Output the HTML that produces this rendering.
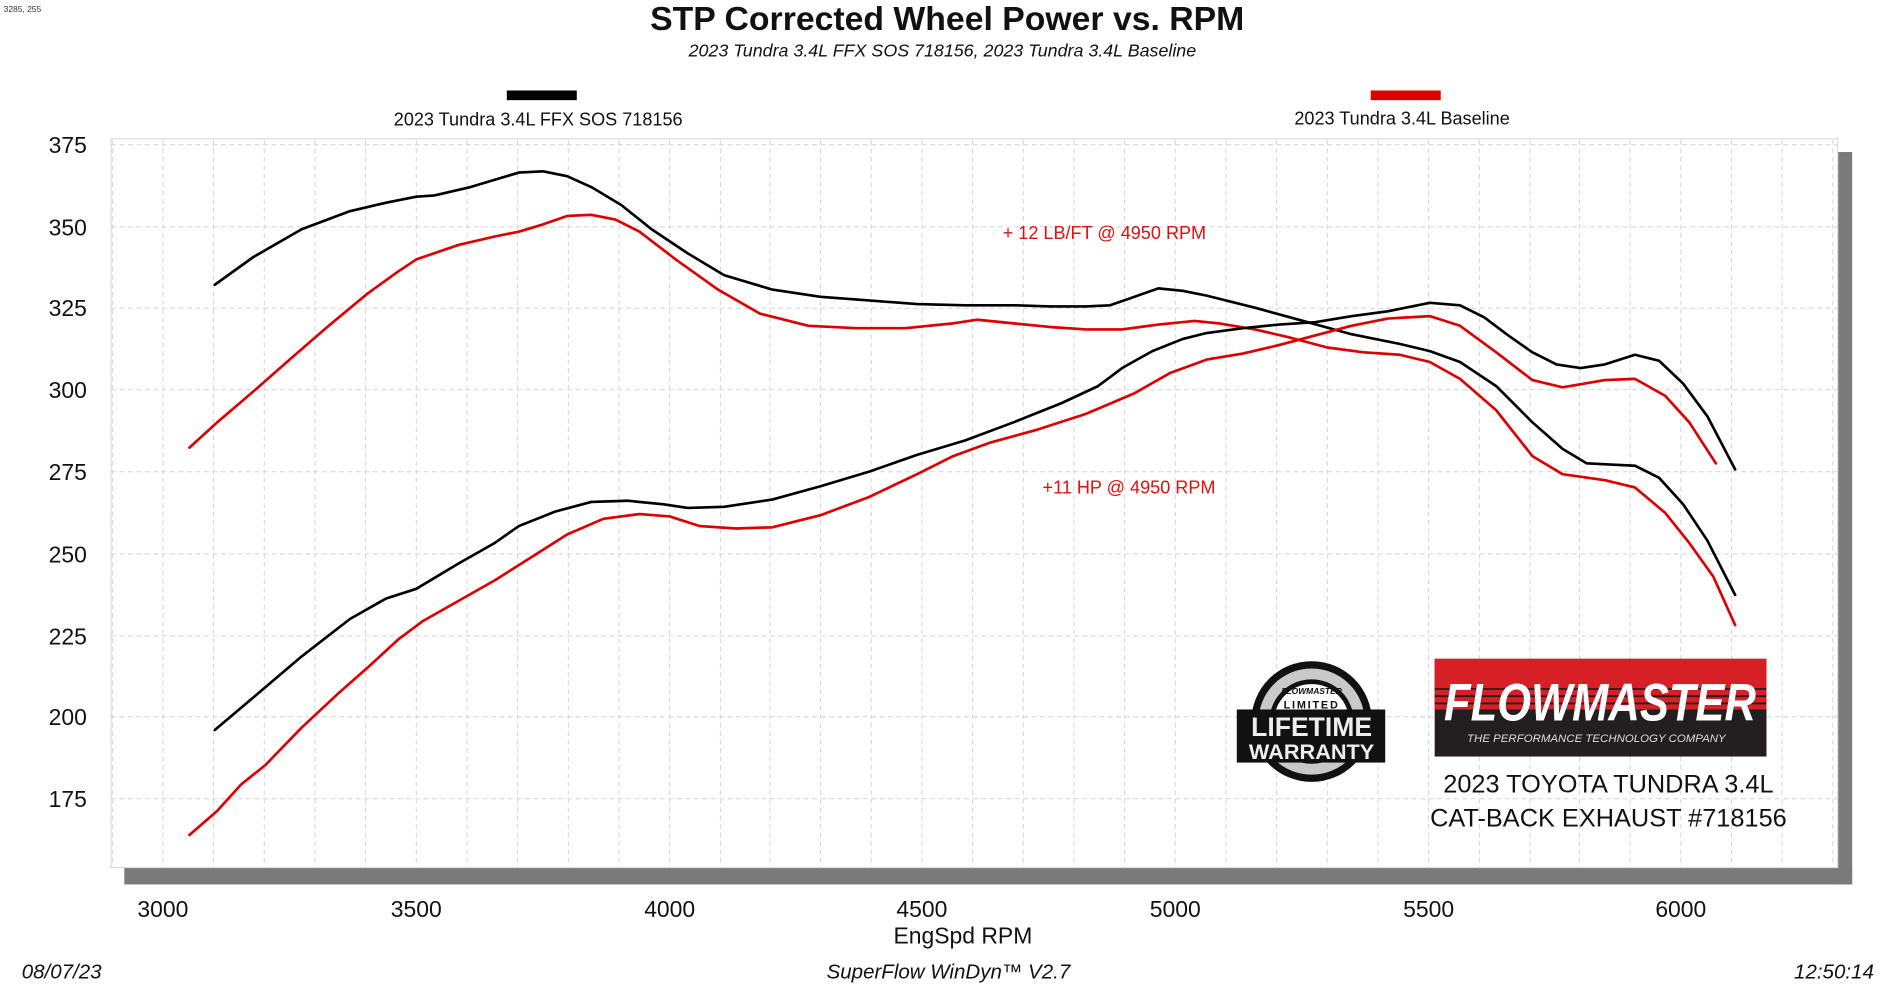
<!DOCTYPE html>
<html><head><meta charset="utf-8"><style>
html,body{margin:0;padding:0;background:#fff;overflow:hidden}
svg{display:block}
</style></head><body>
<svg width="1892" height="987" viewBox="0 0 1568 818" xmlns="http://www.w3.org/2000/svg" font-family="Liberation Sans, sans-serif">
<rect width="1568" height="818" fill="#fff"/>
<text x="3" y="10" font-size="7" fill="#333">3285, 255</text>
<text x="785" y="25" font-size="28" font-weight="bold" text-anchor="middle" fill="#111">STP Corrected Wheel Power vs. RPM</text>
<text x="781" y="47" font-size="14.8" font-style="italic" text-anchor="middle" fill="#111">2023 Tundra 3.4L FFX SOS 718156, 2023 Tundra 3.4L Baseline</text>
<rect x="420" y="75" width="58" height="8" fill="#000"/>
<text x="446" y="104" font-size="15" text-anchor="middle" fill="#111">2023 Tundra 3.4L FFX SOS 718156</text>
<rect x="1136" y="75" width="58" height="8" fill="#d00"/>
<text x="1162" y="103" font-size="15" text-anchor="middle" fill="#111">2023 Tundra 3.4L Baseline</text>
<rect x="103" y="719" width="1432" height="14" fill="#7a7a7a"/>
<rect x="1523" y="126" width="12" height="607" fill="#7a7a7a"/>
<rect x="92" y="115" width="1431" height="604" fill="#fff" stroke="#ddd" stroke-width="1"/>
<g stroke="#d4d4d4" stroke-width="0.8" stroke-dasharray="4,3">
<line x1="93.1" y1="116" x2="93.1" y2="719"/>
<line x1="135" y1="116" x2="135" y2="719"/><line x1="177" y1="116" x2="177" y2="719"/><line x1="219" y1="116" x2="219" y2="719"/><line x1="261" y1="116" x2="261" y2="719"/><line x1="303" y1="116" x2="303" y2="719"/><line x1="345" y1="116" x2="345" y2="719"/><line x1="387" y1="116" x2="387" y2="719"/><line x1="429" y1="116" x2="429" y2="719"/><line x1="471" y1="116" x2="471" y2="719"/><line x1="513" y1="116" x2="513" y2="719"/><line x1="555" y1="116" x2="555" y2="719"/><line x1="597" y1="116" x2="597" y2="719"/><line x1="638" y1="116" x2="638" y2="719"/><line x1="680" y1="116" x2="680" y2="719"/><line x1="722" y1="116" x2="722" y2="719"/><line x1="764" y1="116" x2="764" y2="719"/><line x1="806" y1="116" x2="806" y2="719"/><line x1="848" y1="116" x2="848" y2="719"/><line x1="890" y1="116" x2="890" y2="719"/><line x1="932" y1="116" x2="932" y2="719"/><line x1="974" y1="116" x2="974" y2="719"/><line x1="1016" y1="116" x2="1016" y2="719"/><line x1="1058" y1="116" x2="1058" y2="719"/><line x1="1100" y1="116" x2="1100" y2="719"/><line x1="1142" y1="116" x2="1142" y2="719"/><line x1="1184" y1="116" x2="1184" y2="719"/><line x1="1226" y1="116" x2="1226" y2="719"/><line x1="1268" y1="116" x2="1268" y2="719"/><line x1="1309" y1="116" x2="1309" y2="719"/><line x1="1351" y1="116" x2="1351" y2="719"/><line x1="1393" y1="116" x2="1393" y2="719"/><line x1="1435" y1="116" x2="1435" y2="719"/><line x1="1477" y1="116" x2="1477" y2="719"/><line x1="1519" y1="116" x2="1519" y2="719"/>
<line x1="92" y1="120" x2="1523" y2="120"/><line x1="92" y1="188" x2="1523" y2="188"/><line x1="92" y1="255.5" x2="1523" y2="255.5"/><line x1="92" y1="323" x2="1523" y2="323"/><line x1="92" y1="391" x2="1523" y2="391"/><line x1="92" y1="459" x2="1523" y2="459"/><line x1="92" y1="527" x2="1523" y2="527"/><line x1="92" y1="594" x2="1523" y2="594"/><line x1="92" y1="662" x2="1523" y2="662"/>
</g>
<g font-size="19" fill="#111" text-anchor="end">
<text x="72" y="127">375</text><text x="72" y="195">350</text><text x="72" y="262">325</text><text x="72" y="330">300</text><text x="72" y="398">275</text><text x="72" y="466">250</text><text x="72" y="534">225</text><text x="72" y="601">200</text><text x="72" y="669">175</text>
</g>
<g font-size="19" fill="#111" text-anchor="middle">
<text x="135" y="760">3000</text><text x="345" y="760">3500</text><text x="555" y="760">4000</text><text x="764" y="760">4500</text><text x="974" y="760">5000</text><text x="1184" y="760">5500</text><text x="1393" y="760">6000</text>
<text x="798" y="782">EngSpd  RPM</text>
</g>
<g font-size="17" font-style="italic" fill="#111">
<text x="18" y="811">08/07/23</text>
<text x="786" y="811" text-anchor="middle">SuperFlow WinDyn™ V2.7</text>
<text x="1553" y="811" text-anchor="end">12:50:14</text>
</g>
<g font-size="15" fill="#e01010">
<text x="831" y="198">+ 12 LB/FT @ 4950 RPM</text>
<text x="864" y="409">+11 HP @ 4950 RPM</text>
</g>
<g fill="none" stroke-width="2.2" stroke-linejoin="round" stroke-linecap="round">
<polyline stroke="#000" points="178,236 210,213 250,190 290,175 320,168 345,163 360,162 390,155 430,143 450,142 470,146 490,155 515,170 540,190 570,210 600,228 640,240 680,246 720,249 760,252 800,253 840,253 870,254 900,254 920,253 940,246 960,239 980,241 1000,245 1040,255 1080,266 1120,277 1160,285 1185,291 1210,300 1240,320 1270,350 1295,372 1315,384 1335,385 1355,386 1375,396 1395,418 1415,448 1438,493"/>
<polyline stroke="#d00" points="157,371 180,350 200,333 215,320 240,298 270,272 305,243 330,225 345,215 380,203 410,196 430,192 450,186 470,179 490,178 510,182 530,192 560,215 595,240 630,260 670,270 710,272 750,272 790,268 810,265 840,268 870,271 900,273 930,273 960,269 990,266 1010,268 1040,273 1070,280 1100,288 1130,292 1160,294 1185,300 1210,314 1240,340 1270,378 1295,393 1330,398 1355,404 1380,425 1400,450 1420,478 1438,518"/>
<polyline stroke="#000" points="178,605 210,578 250,544 290,513 320,496 345,488 380,467 410,450 430,436 460,424 490,416 520,415 550,418 570,421 600,420 640,414 680,403 720,391 760,377 800,365 840,350 880,334 910,320 930,305 955,291 980,281 1000,276 1030,272 1060,269 1090,267 1120,262 1150,258 1185,251 1210,253 1230,263 1250,278 1270,292 1290,302 1310,305 1330,302 1355,294 1375,299 1395,318 1415,345 1438,389"/>
<polyline stroke="#d00" points="157,692 180,672 200,650 220,634 250,603 280,575 305,553 330,530 350,515 380,498 410,481 440,462 470,443 500,430 530,426 555,428 580,436 610,438 640,437 680,427 720,412 760,393 790,378 820,367 860,356 900,343 940,326 970,309 1000,298 1030,293 1060,286 1090,278 1120,270 1150,264 1185,262 1210,270 1240,292 1270,315 1295,321 1330,315 1355,314 1380,328 1400,350 1422,384"/>
</g>
<rect x="1189" y="546" width="275" height="81" fill="#231f20"/>
<rect x="1189" y="546" width="275" height="42" fill="#d71f26"/>
<g stroke="#231f20" stroke-width="1.5"><line x1="1189" y1="571" x2="1464" y2="571"/><line x1="1189" y1="577" x2="1464" y2="577"/><line x1="1189" y1="583" x2="1464" y2="583"/></g>
<text x="1326" y="597" font-size="44" font-weight="bold" font-style="italic" fill="#fff" text-anchor="middle" transform="translate(1326 0) scale(0.82 1) translate(-1326 0)">FLOWMASTER</text>
<text x="1323" y="615" font-size="9.5" font-style="italic" fill="#ddd" text-anchor="middle">THE PERFORMANCE TECHNOLOGY COMPANY</text>
<g font-size="21" fill="#111" text-anchor="middle">
<text x="1333" y="657">2023 TOYOTA TUNDRA 3.4L</text>
<text x="1333" y="685">CAT-BACK EXHAUST #718156</text>
</g>
<circle cx="1087" cy="598" r="50" fill="#111"/>
<circle cx="1087" cy="598" r="44" fill="#c9c9c9"/>
<circle cx="1087" cy="598" r="33" fill="#fff" stroke="#111" stroke-width="4"/>
<text x="1087" y="575" font-size="7" font-style="italic" font-weight="bold" text-anchor="middle" fill="#111">FLOWMASTER</text>
<text x="1087" y="587" font-size="9" font-weight="bold" text-anchor="middle" fill="#111" letter-spacing="1.5">LIMITED</text>
<rect x="1025" y="588" width="123" height="44" fill="#111"/>
<text x="1087" y="610" font-size="22" font-weight="bold" text-anchor="middle" fill="#eee">LIFETIME</text>
<text x="1087" y="629" font-size="18" font-weight="bold" text-anchor="middle" fill="#eee">WARRANTY</text>
</svg>
</body></html>
